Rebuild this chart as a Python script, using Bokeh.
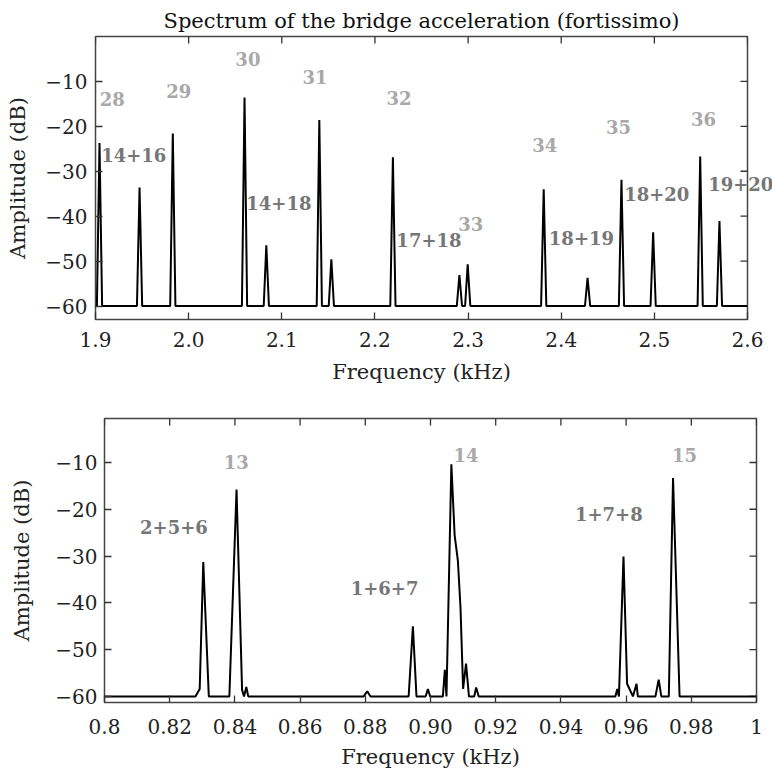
import math
from bokeh.plotting import figure
from bokeh.models import FixedTicker, Range1d
from bokeh.core.properties import value
from bokeh.embed import file_html
from bokeh.resources import INLINE

FONT = "DejaVu Serif"
MODE_COLOR = "#a8a8a8"
COMBO_COLOR = "#767676"

# ---------------- data: upper panel (1.9 - 2.6 kHz) ----------------
top_title = "Spectrum of the bridge acceleration (fortissimo)"
top_peak_khz = [1.9043, 1.9473, 1.9830, 2.0600, 2.0834, 2.1403, 2.1532, 2.2193,
                2.2907, 2.2996, 2.3812, 2.4283, 2.4647, 2.4987, 2.5492, 2.5699]
top_peak_db = [-23.7, -33.6, -21.6, -13.6, -46.5, -18.6, -49.6, -26.9,
               -53.1, -50.7, -34.0, -53.7, -31.9, -43.6, -26.7, -41.1]
top_floor_db = -60.0
top_halfwidth_khz = 0.0028
top_x_ticks = [1.9, 2.0, 2.1, 2.2, 2.3, 2.4, 2.5, 2.6]
top_x_labels = ["1.9", "2.0", "2.1", "2.2", "2.3", "2.4", "2.5", "2.6"]

top_mode_text = ["28", "29", "30", "31", "32", "33", "34", "35", "36"]
top_mode_x = [1.918, 1.9895, 2.0636, 2.1356, 2.2258, 2.3028, 2.3823, 2.4614, 2.5527]
top_mode_y = [-13.9, -12.1, -5.0, -9.0, -13.7, -41.7, -24.2, -20.2, -18.4]
top_combo_text = ["14+16", "14+18", "17+18", "18+19", "18+20", "19+20"]
top_combo_x = [1.9411, 2.0969, 2.2580, 2.4217, 2.5026, 2.5928]
top_combo_y = [-26.4, -37.0, -45.2, -44.8, -35.0, -32.8]

# ---------------- data: lower panel (0.8 - 1.0 kHz) ----------------
bot_khz = [0.8000, 0.8279, 0.8292, 0.8303, 0.8320, 0.8383, 0.8405, 0.8422, 0.8428,
           0.8435, 0.8441, 0.8795, 0.8806, 0.8816, 0.8933, 0.8946, 0.8957, 0.8985,
           0.8992, 0.8999, 0.9038, 0.9044, 0.9049, 0.9064, 0.9074, 0.9084, 0.9092,
           0.9100, 0.9109, 0.9118, 0.9134, 0.9140, 0.9148, 0.9567, 0.9573, 0.9578,
           0.9592, 0.9603, 0.9621, 0.9632, 0.9636, 0.9690, 0.9700, 0.9708, 0.9731,
           0.9744, 0.9764, 1.0000]
bot_db = [-60.0, -60.0, -58.4, -31.3, -60.0, -60.0, -15.8, -58.6, -60.0,
          -58.0, -60.0, -60.0, -58.9, -60.0, -60.0, -45.0, -60.0, -60.0,
          -58.4, -60.0, -60.0, -54.3, -60.0, -10.4, -25.5, -31.0, -41.0,
          -58.4, -53.0, -60.0, -60.0, -58.1, -60.0, -60.0, -58.4, -60.0,
          -30.1, -57.3, -60.0, -57.3, -60.0, -60.0, -56.4, -60.0, -60.0,
          -13.3, -60.0, -60.0]
bot_x_ticks = [0.8, 0.82, 0.84, 0.86, 0.88, 0.90, 0.92, 0.94, 0.96, 0.98, 1.0]
bot_x_labels = ["0.8", "0.82", "0.84", "0.86", "0.88", "0.90", "0.92", "0.94",
                "0.96", "0.98", "1"]

bot_mode_text = ["13", "14", "15"]
bot_mode_x = [0.8404, 0.9109, 0.9779]
bot_mode_y = [-9.8, -8.4, -8.5]
bot_combo_text = ["2+5+6", "1+6+7", "1+7+8"]
bot_combo_x = [0.8213, 0.8859, 0.9547]
bot_combo_y = [-23.7, -36.8, -21.0]

y_ticks = [-60, -50, -40, -30, -20, -10]
y_labels = ["\u221260", "\u221250", "\u221240", "\u221230", "\u221220", "\u221210"]


def build_top_line():
    xs = [top_x_ticks[0]]
    ys = [top_floor_db]
    for f, d in zip(top_peak_khz, top_peak_db):
        xs += [f - top_halfwidth_khz, f, f + top_halfwidth_khz]
        ys += [top_floor_db, d, top_floor_db]
    xs.append(top_x_ticks[-1])
    ys.append(top_floor_db)
    return xs, ys


def style_axis(ax):
    ax.major_tick_in = 7
    ax.major_tick_out = 0
    ax.minor_tick_in = 0
    ax.minor_tick_out = 0
    ax.axis_line_color = None
    ax.major_tick_line_color = "#333333"
    ax.major_tick_line_width = 1.3
    ax.major_label_text_font = FONT
    ax.major_label_text_color = "#222222"
    ax.major_label_text_font_size = "20px"
    ax.axis_label_text_font = FONT
    ax.axis_label_text_font_style = "normal"
    ax.axis_label_text_color = "#222222"
    ax.axis_label_text_font_size = "21px"


def make_fig(xr, yr, width, height, left, right, top, bottom, xticks, xlabels,
             x_std, x_lab_std, y_std, y_lab_std, title=None):
    p = figure(width=width, height=height, x_range=Range1d(*xr), y_range=Range1d(*yr),
               output_backend="svg", toolbar_location=None, title=title,
               min_border_left=left, min_border_right=right,
               min_border_top=top, min_border_bottom=bottom)
    p.xgrid.visible = False
    p.ygrid.visible = False
    p.outline_line_color = "#444444"
    p.outline_line_width = 1.5
    p.background_fill_color = "white"
    p.border_fill_color = "white"

    xa = p.xaxis[0]
    xa.ticker = FixedTicker(ticks=xticks)
    xa.major_label_overrides = dict(zip(xticks, xlabels))
    xa.axis_label = "Frequency (kHz)"
    style_axis(xa)
    xa.major_label_standoff = x_std
    xa.axis_label_standoff = x_lab_std

    ya = p.yaxis[0]
    ya.ticker = FixedTicker(ticks=y_ticks)
    ya.major_label_overrides = dict(zip(y_ticks, y_labels))
    ya.axis_label = "Amplitude (dB)"
    style_axis(ya)
    ya.major_label_standoff = y_std
    ya.axis_label_standoff = y_lab_std

    # mirrored inward ticks on the top and right edges of the frame
    p.ray(x=xticks, y=[yr[1]] * len(xticks), length=7, length_units="screen",
          angle=-math.pi / 2, line_color="#333333", line_width=1.3)
    p.ray(x=[xr[1]] * len(y_ticks), y=y_ticks, length=7, length_units="screen",
          angle=math.pi, line_color="#333333", line_width=1.3)

    if title is not None:
        p.title.text_font = FONT
        p.title.text_font_size = "21px"
        p.title.text_font_style = "normal"
        p.title.text_color = "#111111"
        p.title.align = "center"
        p.title.standoff = 8
    return p


def add_labels(p, texts, xs, ys, color):
    p.text(x=xs, y=ys, text=texts, text_font=value(FONT), text_font_size="18px",
           text_font_style="bold", text_color=color, text_align="center",
           text_baseline="middle", level="overlay")


p1 = make_fig((1.9, 2.6), (-63.0, 0.0), 772, 390, 95, 25, 36, 71,
              top_x_ticks, top_x_labels, 12, 10, 8, 12, title=top_title)
tx, ty = build_top_line()
p1.line(tx, ty, line_color="black", line_width=2)
add_labels(p1, top_mode_text, top_mode_x, top_mode_y, MODE_COLOR)
add_labels(p1, top_combo_text, top_combo_x, top_combo_y, COMBO_COLOR)

p2 = make_fig((0.8, 1.0), (-61.3, -0.6), 772, 383, 104, 16, 28, 71,
              bot_x_ticks, bot_x_labels, 16, 8, 7, 18)
p2.line(bot_khz, bot_db, line_color="black", line_width=2)
add_labels(p2, bot_mode_text, bot_mode_x, bot_mode_y, MODE_COLOR)
add_labels(p2, bot_combo_text, bot_combo_x, bot_combo_y, COMBO_COLOR)

open("out.html", "w").write(file_html([p1, p2], INLINE))
